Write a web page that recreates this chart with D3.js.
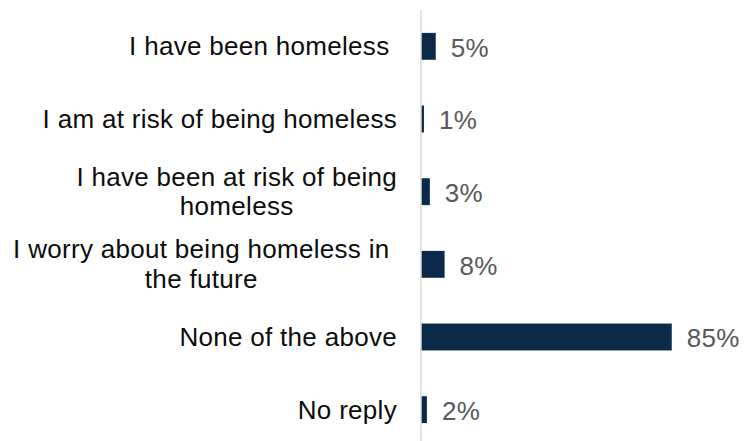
<!DOCTYPE html>
<html>
<head>
<meta charset="utf-8">
<script src="https://cdn.jsdelivr.net/npm/d3@7"></script>
<style>
  html, body { margin: 0; padding: 0; background: #ffffff; }
  svg { display: block; }
  text { font-family: "Liberation Sans", Arial, sans-serif; white-space: pre; letter-spacing: 0.3px; }
</style>
</head>
<body>
<svg id="chart" width="744" height="441"></svg>
<script>
// Survey responses on homelessness (percent of respondents)
const categories = [
  "I have been homeless ",
  "I am at risk of being homeless",
  "I have been at risk of being\nhomeless",
  "I worry about being homeless in \nthe future",
  "None of the above",
  "No reply"
];
const values = [5, 1, 3, 8, 85, 2];
const valueLabels = ["5%", "1%", "3%", "8%", "85%", "2%"];

const W = 744, H = 441;
const axisX = 421;
const labelRight = 397;
const fontSize = 26;
const lineGap = 29.2;

const svg = d3.select("#chart");

const x = d3.scaleLinear().domain([0, 100]).range([axisX, 716]);
const y = d3.scaleBand()
  .domain(categories)
  .range([10, 446])
  .paddingInner(0.63)
  .paddingOuter(0.315);

// Bars
svg.append("g").selectAll("rect")
  .data(categories)
  .join("rect")
  .attr("x", x(0))
  .attr("y", d => y(d))
  .attr("width", (d, i) => x(values[i]) - x(0))
  .attr("height", y.bandwidth())
  .attr("fill", "#0b2a4a");

// Vertical category axis line
svg.append("line")
  .attr("x1", axisX).attr("x2", axisX)
  .attr("y1", 10).attr("y2", H)
  .attr("stroke", "#d9d9d9")
  .attr("stroke-width", 1.5);

// Value labels
svg.append("g").selectAll("text")
  .data(categories)
  .join("text")
  .attr("x", (d, i) => x(values[i]) + 15)
  .attr("y", d => y(d) + y.bandwidth() / 2)
  .attr("dy", "0.4em")
  .attr("font-size", fontSize)
  .attr("fill", "#595959")
  .text((d, i) => valueLabels[i]);

// Category labels: right-aligned block, wrapped lines centred within it
const measure = svg.append("text").attr("font-size", fontSize).attr("visibility", "hidden");
function textWidth(s) {
  measure.text(s);
  return measure.node().getComputedTextLength();
}

const labelG = svg.append("g");
categories.forEach(cat => {
  const lines = cat.split("\n");
  const cy = y(cat) + y.bandwidth() / 2;
  if (lines.length === 1) {
    labelG.append("text")
      .attr("x", labelRight)
      .attr("y", cy)
      .attr("dy", "0.35em")
      .attr("text-anchor", "end")
      .attr("font-size", fontSize)
      .attr("fill", "#0d0d0d")
      .text(lines[0]);
  } else {
    const full = textWidth(lines[0]);
    const trimmed = textWidth(lines[0].trimEnd());
    const visEnd = labelRight - (full - trimmed);
    const centre = visEnd - trimmed / 2;
    lines.forEach((ln, k) => {
      labelG.append("text")
        .attr("x", centre)
        .attr("y", cy + (k - (lines.length - 1) / 2) * lineGap)
        .attr("dy", "0.33em")
        .attr("text-anchor", "middle")
        .attr("font-size", fontSize)
        .attr("fill", "#0d0d0d")
        .text(ln.trim());
    });
  }
});
measure.remove();
</script>
</body>
</html>
